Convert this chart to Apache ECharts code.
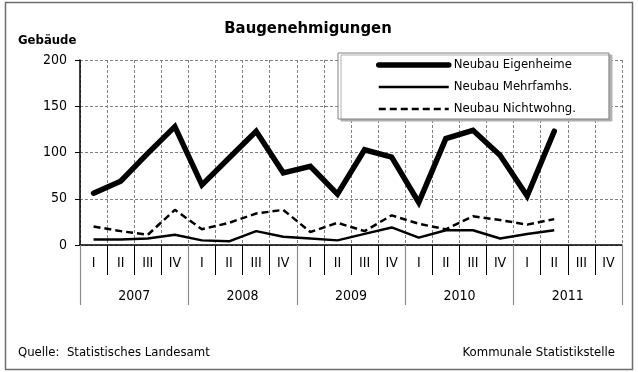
<!DOCTYPE html>
<html>
<head>
<meta charset="utf-8">
<script src="https://cdn.jsdelivr.net/npm/echarts@6/dist/echarts.min.js"></script>
<style>
  html, body { margin: 0; padding: 0; background: #fff; }
  #chart { width: 638px; height: 372px; }
</style>
</head>
<body>
<div id="chart"></div>
<script>
// Quarterly building permits, 2007 – 2011
const quarters = ['I', 'II', 'III', 'IV', 'I', 'II', 'III', 'IV', 'I', 'II', 'III', 'IV',
                  'I', 'II', 'III', 'IV', 'I', 'II', 'III', 'IV'];
const years = ['2007', '2008', '2009', '2010', '2011'];
const yTicks = [0, 50, 100, 150, 200];

const eigenheime = [56, 69, 99, 128, 65, 94, 123, 78, 85, 55, 103, 95, 46, 115, 124, 97, 53, 123];
const mehrfamhs  = [6, 6, 7, 11, 5, 4, 15, 9, 7, 5, 12, 19, 8, 16, 16, 7, 12, 16];
const nichtwohng = [20, 15, 11, 38, 17, 24, 34, 38, 14, 24, 15, 32, 23, 17, 31, 27, 22, 28];

const FONT = "'DejaVu Sans Condensed', 'DejaVu Sans', sans-serif";
const gridRect = { left: 80, right: 16, top: 60, bottom: 127 };

const lineEig = { color: '#000', width: 5.5, cap: 'round', join: 'miter' };
const lineMfh = { color: '#000', width: 2.5 };
const lineNwg = { color: '#000', width: 2.5, type: [7, 4] };

const chart = echarts.init(document.getElementById('chart'), null, { renderer: 'canvas' });

chart.setOption({
  backgroundColor: '#fff',
  animation: false,
  textStyle: { fontFamily: FONT, color: '#000' },
  title: [
    { text: 'Baugenehmigungen', left: 308, top: 20, textAlign: 'center', padding: 0,
      textStyle: { fontFamily: FONT, fontSize: 16.5, fontWeight: 'bold', color: '#000' } },
    { text: 'Gebäude', left: 18, top: 34, padding: 0,
      textStyle: { fontFamily: FONT, fontSize: 13, fontWeight: 'bold', color: '#000' } },
    { text: 'Quelle:  Statistisches Landesamt', left: 18, top: 346, padding: 0,
      textStyle: { fontFamily: FONT, fontSize: 13, fontWeight: 'normal', color: '#000' } },
    { text: 'Kommunale Statistikstelle', right: 23, top: 346, padding: 0,
      textStyle: { fontFamily: FONT, fontSize: 13, fontWeight: 'normal', color: '#000' } }
  ],
  legend: {
    left: 338, top: 53,
    orient: 'vertical',
    padding: [4, 33, 2, 38],
    itemWidth: 70, itemHeight: 16, itemGap: 6,
    backgroundColor: '#fff',
    borderColor: '#808080', borderWidth: 1,
    shadowColor: '#b0b0b0', shadowOffsetX: 3, shadowOffsetY: 2, shadowBlur: 0,
    itemStyle: { opacity: 0 },
    textStyle: { fontFamily: FONT, fontSize: 13, color: '#000', lineHeight: 16 },
    data: [
      { name: 'Neubau Eigenheime', lineStyle: lineEig },
      { name: 'Neubau Mehrfamhs.', lineStyle: lineMfh },
      { name: 'Neubau Nichtwohng.', lineStyle: lineNwg }
    ]
  },
  grid: [
    Object.assign({}, gridRect),
    Object.assign({}, gridRect)
  ],
  xAxis: [
    {
      type: 'category', gridIndex: 0, data: quarters, boundaryGap: true,
      axisLine: { show: true, lineStyle: { color: '#000', width: 1.5 } },
      axisTick: { show: true, interval: 0, length: 30, lineStyle: { color: '#000', width: 1 } },
      axisLabel: { interval: 0, margin: 11, fontFamily: FONT, fontSize: 14, color: '#000' },
      splitLine: { show: true, interval: 0, lineStyle: { color: '#808080', type: [3, 2], width: 1 } }
    },
    {
      type: 'category', gridIndex: 1, data: years, boundaryGap: true,
      axisLine: { show: false },
      axisTick: { show: true, interval: 0, length: 60, lineStyle: { color: '#8c8c8c', width: 1.2 } },
      axisLabel: { interval: 0, margin: 44, fontFamily: FONT, fontSize: 14, color: '#000' },
      splitLine: { show: false }
    }
  ],
  yAxis: [
    {
      type: 'value', gridIndex: 0, min: yTicks[0], max: yTicks[yTicks.length - 1], interval: 50,
      axisLine: { show: true, lineStyle: { color: '#000', width: 1.5 } },
      axisTick: { show: true, length: 5, lineStyle: { color: '#000' } },
      axisLabel: { margin: 13, fontFamily: FONT, fontSize: 14, color: '#000' },
      splitLine: { show: true, lineStyle: { color: '#808080', type: [3, 2], width: 1 } }
    },
    {
      type: 'value', gridIndex: 1, min: 0, max: 200, show: false
    }
  ],
  series: [
    {
      name: 'Neubau Eigenheime', type: 'line', data: eigenheime,
      xAxisIndex: 0, yAxisIndex: 0, symbol: 'none', z: 5,
      itemStyle: { color: '#000' }, lineStyle: lineEig
    },
    {
      name: 'Neubau Mehrfamhs.', type: 'line', data: mehrfamhs,
      xAxisIndex: 0, yAxisIndex: 0, symbol: 'none', z: 4,
      itemStyle: { color: '#000' }, lineStyle: lineMfh
    },
    {
      name: 'Neubau Nichtwohng.', type: 'line', data: nichtwohng,
      xAxisIndex: 0, yAxisIndex: 0, symbol: 'none', z: 3,
      itemStyle: { color: '#000' }, lineStyle: lineNwg
    }
  ],
  graphic: [
    { type: 'rect', silent: true, z: 100,
      shape: { x: 5.5, y: 2.5, width: 627, height: 367 },
      style: { fill: null, stroke: '#6e6e6e', lineWidth: 1.5 } }
  ]
});
</script>
</body>
</html>
